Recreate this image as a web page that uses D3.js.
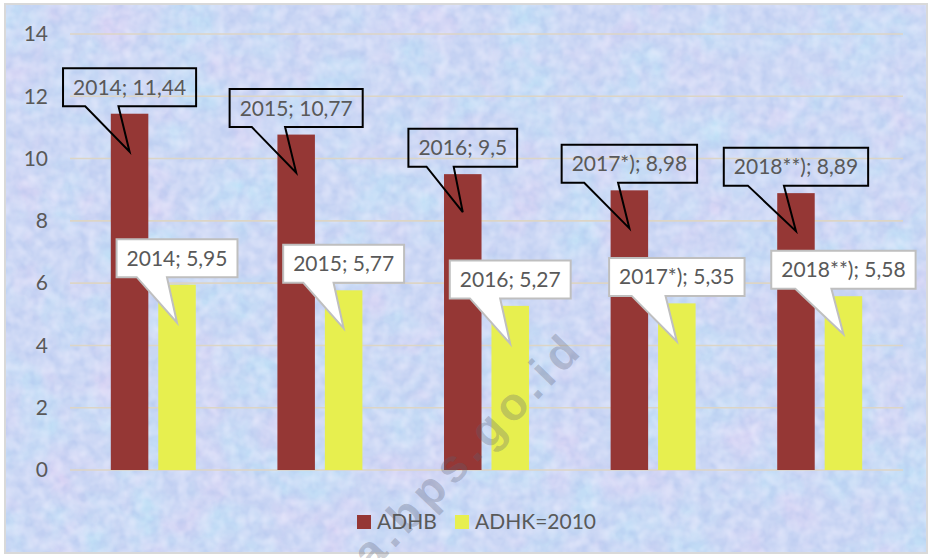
<!DOCTYPE html>
<html>
<head>
<meta charset="utf-8">
<script src="https://cdnjs.cloudflare.com/ajax/libs/d3/7.8.5/d3.min.js"></script>
<style>
  html, body { margin: 0; padding: 0; background: #ffffff; }
  svg { display: block; }
  text { font-family: Lato, "Open Sans", "Liberation Sans", sans-serif; }
</style>
</head>
<body>
<svg id="chart" width="932" height="558"></svg>
<script>
// ---- data ----
const categories = ["2014", "2015", "2016", "2017*)", "2018**)"];
const seriesNames = ["ADHB", "ADHK=2010"];
const adhbValues = [11.44, 10.77, 9.5, 8.98, 8.89];
const adhkValues = [5.95, 5.77, 5.27, 5.35, 5.58];
const yTickValues = [0, 2, 4, 6, 8, 10, 12, 14];

// ---- layout / style ----
const plot = { left: 70, right: 903, top: 34, bottom: 470 };
const colors = { "ADHB": "#953735", "ADHK=2010": "#e7ef4f" };
const textColor = "#595959";

const svg = d3.select("#chart");
const defs = svg.append("defs");

// textured pastel background
const f = defs.append("filter").attr("id", "tex")
  .attr("x", 0).attr("y", 0).attr("width", "100%").attr("height", "100%")
  .attr("color-interpolation-filters", "sRGB");
f.append("feFlood").attr("flood-color", "#cad6f4").attr("result", "base");
f.append("feTurbulence").attr("type", "fractalNoise").attr("baseFrequency", 0.018)
  .attr("numOctaves", 3).attr("seed", 4).attr("result", "n1");
f.append("feColorMatrix").attr("in", "n1").attr("type", "matrix")
  .attr("values", "0 0 0 0 0.74  0 0 0 0 0.89  0 0 0 0 0.97  1.8 0 0 0 -0.75").attr("result", "c1");
f.append("feTurbulence").attr("type", "fractalNoise").attr("baseFrequency", 0.022)
  .attr("numOctaves", 3).attr("seed", 17).attr("result", "n2");
f.append("feColorMatrix").attr("in", "n2").attr("type", "matrix")
  .attr("values", "0 0 0 0 0.88  0 0 0 0 0.82  0 0 0 0 0.96  1.6 0 0 0 -0.8").attr("result", "c2");
f.append("feTurbulence").attr("type", "fractalNoise").attr("baseFrequency", 0.1)
  .attr("numOctaves", 2).attr("seed", 9).attr("result", "n3");
f.append("feColorMatrix").attr("in", "n3").attr("type", "matrix")
  .attr("values", "0 0 0 0 0.66  0 0 0 0 0.74  0 0 0 0 0.92  0.8 0 0 0 -0.3").attr("result", "c3");
f.append("feTurbulence").attr("type", "fractalNoise").attr("baseFrequency", 0.08)
  .attr("numOctaves", 2).attr("seed", 23).attr("result", "n4");
f.append("feColorMatrix").attr("in", "n4").attr("type", "matrix")
  .attr("values", "0 0 0 0 0.95  0 0 0 0 0.95  0 0 0 0 1.0  0.9 0 0 0 -0.32").attr("result", "c4");
const m = f.append("feMerge");
["base", "c1", "c2", "c3", "c4"].forEach(r => m.append("feMergeNode").attr("in", r));

svg.append("rect").attr("x", 5).attr("y", 4).attr("width", 922).attr("height", 549)
  .attr("fill", "#cad6f4").attr("filter", "url(#tex)");
svg.append("rect").attr("x", 5).attr("y", 4).attr("width", 922).attr("height", 549)
  .attr("fill", "none").attr("stroke", "#d9d9d9").attr("stroke-width", 2);

// scales
const y = d3.scaleLinear().domain([0, 14]).range([plot.bottom, plot.top]);
const x0 = d3.scaleBand().domain(categories).range([plot.left, plot.right])
  .paddingInner(0.49).paddingOuter(0.245);
const x1 = d3.scaleBand().domain(seriesNames).range([0, x0.bandwidth()]).paddingInner(0.21);

// gridlines
svg.append("g").selectAll("line").data(yTickValues).join("line")
  .attr("x1", plot.left).attr("x2", plot.right)
  .attr("y1", d => y(d)).attr("y2", d => y(d))
  .attr("stroke", "#dcd5c6").attr("stroke-width", 1.6);

// y axis labels via d3 axis
const yAxis = d3.axisLeft(y).tickValues(yTickValues).tickSize(0).tickPadding(0)
  .tickFormat(d3.format("d"));
const ya = svg.append("g").attr("transform", "translate(48,0)").call(yAxis);
ya.select(".domain").remove();
ya.selectAll("text").attr("fill", textColor).style("font-size", "21px")
  .style("font-family", "Lato, 'Open Sans', sans-serif");

// bars
const rows = categories.map((c, i) => ({ cat: c, values: [
  { s: seriesNames[0], v: adhbValues[i] },
  { s: seriesNames[1], v: adhkValues[i] }
]}));
const groups = svg.append("g").selectAll("g").data(rows).join("g")
  .attr("transform", d => `translate(${x0(d.cat)},0)`);
groups.selectAll("rect").data(d => d.values).join("rect")
  .attr("x", d => x1(d.s)).attr("width", x1.bandwidth())
  .attr("y", d => y(d.v)).attr("height", d => y(0) - y(d.v))
  .attr("fill", d => colors[d.s]);

// watermark (over the bars)
svg.append("text")
  .attr("transform", "translate(586,350) rotate(-46)")
  .attr("text-anchor", "end")
  .attr("fill", "rgba(90,95,115,0.30)")
  .style("font-family", "'Liberation Sans', Arial, sans-serif")
  .style("font-weight", "bold").style("font-size", "46px").style("letter-spacing", "6px")
  .text("kota.bps.go.id");

// callouts
const fmt = v => String(v).replace(".", ",");
const tipOffset = 38, boxGap = 45.5, boxH = 38, padX = 10;
const calloutLayer = svg.append("g");
function callout(cat, s, v, style) {
  const cx = x0(cat) + x1(s) + x1.bandwidth() / 2;
  const tx = cx, ty = y(v) + tipOffset;
  const g = calloutLayer.append("g");
  const path = g.append("path");
  const t = g.append("text").attr("x", cx).attr("y", ty - boxGap - boxH / 2)
    .attr("dy", "0.36em").attr("text-anchor", "middle")
    .attr("fill", textColor).style("font-size", "21px")
    .text(`${cat}; ${fmt(v)}`);
  const tw = t.node().getComputedTextLength();
  const bw = tw + padX * 2;
  const L = cx - bw / 2, T = ty - boxGap - boxH, B = T + boxH;
  path.attr("d", `M${L},${T}H${L + bw}V${B}H${L + bw * 5 / 12}L${tx},${ty}L${L + bw / 6},${B}H${L}Z`)
    .attr("fill", style.fill).attr("stroke", style.stroke).attr("stroke-width", 2)
    .attr("stroke-linejoin", "miter");
}
categories.forEach((c, i) => callout(c, seriesNames[0], adhbValues[i], { fill: "none", stroke: "#000000" }));
categories.forEach((c, i) => callout(c, seriesNames[1], adhkValues[i], { fill: "#ffffff", stroke: "#bfbfbf" }));

// legend
const legendX = [357, 455];
const lg = svg.append("g").selectAll("g").data(seriesNames).join("g")
  .attr("transform", (d, i) => `translate(${legendX[i]},515)`);
lg.append("rect").attr("width", 14).attr("height", 14).attr("fill", d => colors[d]);
lg.append("text").attr("x", 20).attr("y", 14).attr("fill", textColor)
  .style("font-size", "21px").text(d => d);
</script>
</body>
</html>
